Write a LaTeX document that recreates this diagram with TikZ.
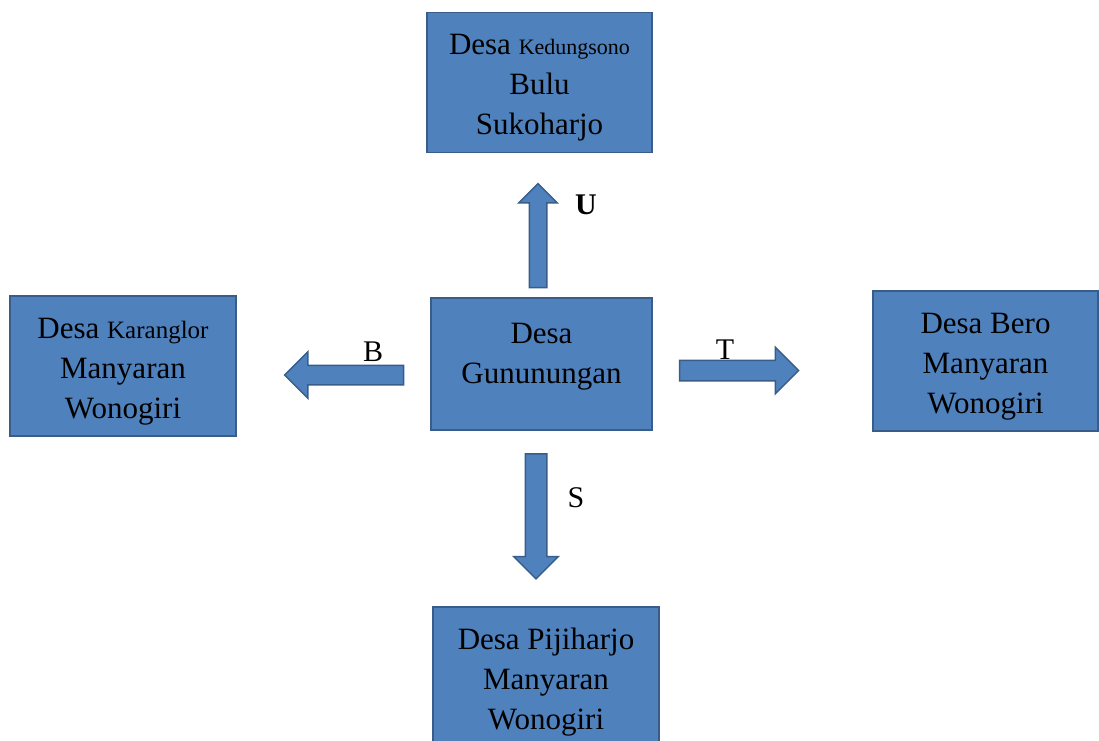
\documentclass[tikz,border=0pt]{standalone}
\usepackage{fontspec}
\setmainfont{Liberation Serif}
\usetikzlibrary{shapes.arrows}
\definecolor{isi}{HTML}{4F81BD}
\definecolor{garis}{HTML}{385D8A}
\newcommand{\kecil}{\fontsize{22}{26}\selectfont}
\newcommand{\atas}{\rule{0pt}{31pt}}

\begin{document}
\begin{tikzpicture}[x=1pt, y=-1pt,
    kotak/.style={draw=garis, fill=isi, line width=1.8pt, minimum width=225pt,
      minimum height=140pt, align=center, font=\fontsize{31}{40}\selectfont},
    panah/.style={single arrow, draw=garis, fill=isi, line width=1.5pt},
    arah/.style={font=\fontsize{30}{36}\selectfont}]
  \useasboundingbox (0,0) rectangle (1099,740);
  % kotak-kotak desa
  \node[kotak] (utara) at (539.5,82.5) {\atas Desa {\kecil Kedungsono}\\Bulu\\Sukoharjo};
  \node[kotak, minimum width=221pt, minimum height=132pt, text depth=21pt]
    (pusat) at (541.5,364) {Desa\\Gununungan};
  \node[kotak, minimum width=226pt] (barat) at (123,366)
    {\atas Desa {\fontsize{25}{26}\selectfont Karanglor}\\Manyaran\\Wonogiri};
  \node[kotak] (timur) at (985.5,361) {\atas Desa Bero\\Manyaran\\Wonogiri};
  \node[kotak, minimum width=226pt] (selatan) at (546,677) {\atas Desa Pijiharjo\\Manyaran\\Wonogiri};
  % panah arah
  \node[panah, minimum height=104pt, inner xsep=8pt, inner ysep=0pt,
    single arrow head extend=10.5pt, shape border rotate=90] (panahU) at (538,240) {};
  \node[panah, minimum height=119pt, inner xsep=0pt, inner ysep=9pt,
    single arrow head extend=13.5pt, shape border rotate=180] (panahB) at (349,375) {};
  \node[panah, minimum height=119pt, inner xsep=0pt, inner ysep=9.5pt,
    single arrow head extend=13pt] (panahT) at (734,370.5) {};
  \node[panah, minimum height=125pt, inner xsep=10pt, inner ysep=0pt,
    single arrow head extend=11.5pt, shape border rotate=270] (panahS) at (536,511) {};
  % huruf arah
  \node[arah, font=\fontsize{30}{36}\selectfont\bfseries] (hurufU) at (586,205) {U};
  \node[arah] (hurufB) at (373,352) {B};
  \node[arah] (hurufT) at (725,350) {T};
  \node[arah] (hurufS) at (576,498) {S};
\end{tikzpicture}
\end{document}
